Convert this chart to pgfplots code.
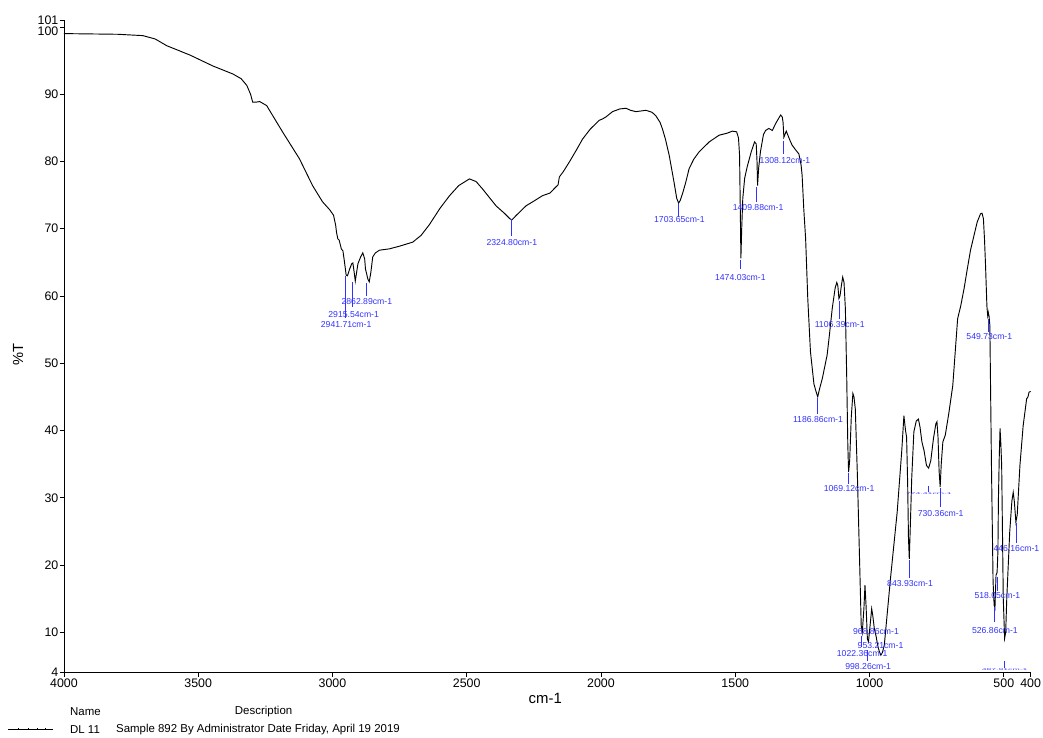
\documentclass[border=0pt]{standalone}
\usepackage{fontspec}
\setmainfont{Liberation Sans}
\usepackage{graphicx}
\usepackage{pgfplots}
\pgfplotsset{compat=1.18}
\definecolor{pk}{RGB}{50,50,255}
\pgfplotstableread{
wn T
4000 99.0
3900 98.95
3800 98.9
3706 98.7
3660 98.2
3617 97.2
3530 95.8
3446 94.2
3371 93.0
3340 92.3
3319 91.3
3305 90.0
3297 88.8
3285 88.8
3271 88.9
3245 88.3
3186 84.4
3123 80.4
3074 76.4
3037 74.0
3010 72.8
2996 72.0
2988 70.5
2985 69.5
2980 68.5
2975 68.3
2967 67.0
2961 66.7
2955 65.0
2949 63.1
2944 63.0
2936 64.0
2928 64.8
2924 64.9
2919 63.5
2915 62.2
2910 63.5
2905 64.8
2895 65.8
2887 66.4
2880 65.5
2877 64.0
2868 62.5
2863 62.1
2857 63.5
2850 65.8
2840 66.4
2825 66.8
2788 67.0
2750 67.4
2701 68.0
2670 69.0
2639 70.6
2600 73.0
2564 74.9
2530 76.4
2490 77.4
2465 77.0
2441 75.9
2415 74.6
2391 73.4
2360 72.3
2340 71.5
2332 71.3
2315 72.0
2279 73.4
2250 74.1
2218 74.9
2190 75.3
2168 76.2
2160 76.5
2155 77.7
2140 78.5
2118 79.9
2090 81.8
2069 83.3
2040 84.8
2007 86.1
1995 86.3
1982 86.6
1957 87.4
1930 87.8
1907 87.9
1890 87.6
1870 87.4
1850 87.5
1833 87.6
1810 87.3
1796 86.8
1780 85.8
1771 84.8
1760 83.3
1746 80.9
1728 76.9
1718 74.5
1711 73.8
1705 74.2
1695 75.4
1685 76.8
1672 78.9
1655 80.3
1635 81.4
1597 82.9
1560 83.9
1530 84.2
1511 84.5
1495 84.4
1488 83.5
1484 80.9
1481 72.0
1479 65.6
1476 70.0
1472 74.5
1465 77.5
1455 79.3
1440 81.5
1428 82.9
1422 82.6
1419 80.0
1417 76.4
1413 79.0
1406 81.5
1395 84.0
1387 84.6
1375 84.9
1362 84.6
1350 85.6
1340 86.3
1331 86.9
1325 86.6
1322 85.8
1319 83.6
1315 84.0
1310 84.5
1305 84.0
1295 83.0
1288 82.4
1275 81.7
1263 81.1
1255 79.5
1251 77.9
1245 73.0
1238 68.5
1230 59.6
1220 51.7
1207 46.9
1200 45.9
1193 45.0
1186 46.2
1176 47.7
1158 51.2
1150 54.0
1139 58.1
1128 61.2
1122 62.0
1118 61.5
1114 59.6
1110 60.0
1105 61.5
1100 62.8
1095 62.0
1090 58.1
1085 48.0
1081 38.0
1078 33.8
1074 35.5
1068 42.0
1062 45.5
1058 45.0
1053 43.2
1045 33.0
1036 19.0
1031 11.0
1027 10.0
1021 13.5
1017 17.0
1013 14.0
1008 9.0
1004 8.6
998 11.0
992 13.5
988 12.5
982 10.5
975 9.3
970 8.1
964 7.2
958 6.6
952 7.0
945 8.1
922 18.0
897 27.9
880 37.0
872 42.2
866 40.0
862 39.0
858 32.0
855 24.0
852 20.9
848 26.0
843 32.8
835 39.8
826 41.4
818 41.7
812 40.5
805 38.3
797 37.0
788 34.8
780 34.4
772 35.5
762 38.8
753 41.0
749 41.3
745 39.0
741 34.0
737 31.6
733 35.0
727 38.3
718 39.3
705 42.5
690 46.7
672 56.6
660 58.6
648 61.1
636 64.0
624 66.8
611 69.0
599 71.0
587 72.2
581 72.3
576 71.5
572 68.5
568 64.5
563 58.5
560 57.1
558 57.6
555 57.0
552 55.6
546 34.8
540 17.5
536 14.0
533 13.6
529 18.5
525 18.9
522 22.0
520 29.9
517 36.0
514 40.3
511 38.0
508 34.8
502 15.0
497 9.1
493 10.0
489 15.0
478 24.9
470 29.5
465 30.8
461 29.5
455 26.4
450 27.5
440 34.8
428 40.7
415 44.7
410 45.0
406 45.7
400 45.8
}\spectrum
\newcommand{\pl}[6]{%
  \draw[pk, line width=0.6pt] (axis cs:#2,#3) -- (axis cs:#2,#4);
  \node[text=pk, inner sep=0pt, font=\fontsize{6.5}{7}\selectfont] at (axis cs:#5,#6) {#1};}
\begin{document}
\begin{tikzpicture}
\begin{axis}[
  at={(0pt,0pt)}, anchor=south west,
  scale only axis, width=726pt, height=490pt,
  x dir=reverse, xmin=400, xmax=4000, ymin=4, ymax=101,
  axis x line*=bottom, axis y line*=left,
  axis line style={-, line width=0.6pt},
  xtick={4000,3500,3000,2500,2000,1500,1000,500,400},
  ytick={4,10,20,30,40,50,60,70,80,90,101},
  extra y ticks={100},
  extra y tick style={yticklabel style={yshift=-3pt}},
  tick align=outside, major tick length=3pt,
  tick style={black, line width=0.5pt},
  ticklabel style={font=\fontsize{9.3}{10}\selectfont},
  yticklabel style={inner sep=1pt},
  xticklabel style={inner sep=1.5pt},
  /pgf/number format/assume math mode=true,
  /pgf/number format/1000 sep={},
  scaled x ticks=false,
  clip=false,
]
\addplot[black, line width=0.7pt, mark=none] table[x=wn, y=T] {\spectrum};
\pl{2941.71cm-1}{2952}{63.0}{56.7}{2949}{55.7}
\pl{2915.54cm-1}{2926}{62.0}{58.3}{2921}{57.3}
\pl{2862.89cm-1}{2873}{61.9}{60.0}{2872}{59.2}
\pl{2324.80cm-1}{2335}{71.4}{68.9}{2332}{67.9}
\pl{1703.65cm-1}{1712}{73.7}{71.8}{1708}{71.35}
\pl{1474.03cm-1}{1480}{65.4}{64.0}{1481}{62.7}
\pl{1409.88cm-1}{1420}{76.2}{73.9}{1415}{73.1}
\pl{1308.12cm-1}{1319}{83.1}{81.1}{1315}{80.1}
\pl{1106.39cm-1}{1114}{59.3}{56.5}{1111}{55.75}
\pl{1186.86cm-1}{1193}{44.9}{42.5}{1192}{41.6}
\pl{1069.12cm-1}{1079}{33.7}{32.1}{1076}{31.3}
\pl{549.73cm-1}{559}{56.5}{54.7}{554}{53.9}
\pl{730.36cm-1}{737}{31.4}{28.6}{735}{27.6}
\pl{843.93cm-1}{853}{20.8}{18.1}{849}{17.2}
\pl{446.16cm-1}{455}{26.2}{23.3}{453}{22.4}
\pl{518.05cm-1}{524}{18.2}{16.2}{524}{15.4}
\pl{526.86cm-1}{534}{13.8}{11.5}{533}{10.2}
\pl{1022.36cm-1}{1031}{9.5}{7.8}{1027.5}{6.9}
\pl{998.26cm-1}{1009}{7.3}{5.8}{1005}{4.9}
\node[text=pk, inner sep=0pt, font=\fontsize{6.5}{7}\selectfont] at (axis cs:976,10.1) {968.86cm-1};
\node[text=pk, inner sep=0pt, font=\fontsize{6.5}{7}\selectfont] at (axis cs:959,8.05) {953.21cm-1};
\draw[pk, line width=0.6pt] (axis cs:782,31.8) -- (axis cs:782,30.9);
\node[text=pk, inner sep=0pt, font=\fontsize{6.5}{7}\selectfont] at (axis cs:779,30.6) {\scalebox{1}[0.3]{774.41cm-1}};
\draw[pk, line width=0.6pt] (axis cs:497,5.7) -- (axis cs:497,4.7);
\node[text=pk, inner sep=0pt, font=\fontsize{6.5}{7}\selectfont] at (axis cs:497,4.4) {\scalebox{1}[0.3]{487.91cm-1}};
\end{axis}
\path (-48pt,-48.375pt) rectangle (734.25pt,505.125pt);
\node[rotate=90, font=\fontsize{11}{12}\selectfont] at (-34.5pt,239.25pt) {\%T};
\node[font=\fontsize{11.2}{12}\selectfont] at (361.5pt,-19.5pt) {cm-1};
\node[anchor=west, inner sep=0pt, font=\fontsize{8.6}{9}\selectfont] at (4.5pt,-29.25pt) {Name};
\node[anchor=west, inner sep=0pt, font=\fontsize{8.6}{9}\selectfont] at (128.25pt,-29.25pt) {Description};
\node[anchor=west, inner sep=0pt, font=\fontsize{8.6}{9}\selectfont] at (4.5pt,-42.75pt) {DL 11};
\node[anchor=west, inner sep=0pt, font=\fontsize{8.6}{9}\selectfont] at (39pt,-42.75pt) {Sample 892 By Administrator Date Friday, April 19 2019};
\draw[line width=0.5pt] (-42pt,-42.75pt) -- (-8.25pt,-42.75pt);
\foreach \xx in {-34.5,-27,-20.25,-14.25} {\draw[line width=0.5pt] (\xx pt,-42.75pt) -- (\xx pt,-41.9pt);}
\end{tikzpicture}
\end{document}
